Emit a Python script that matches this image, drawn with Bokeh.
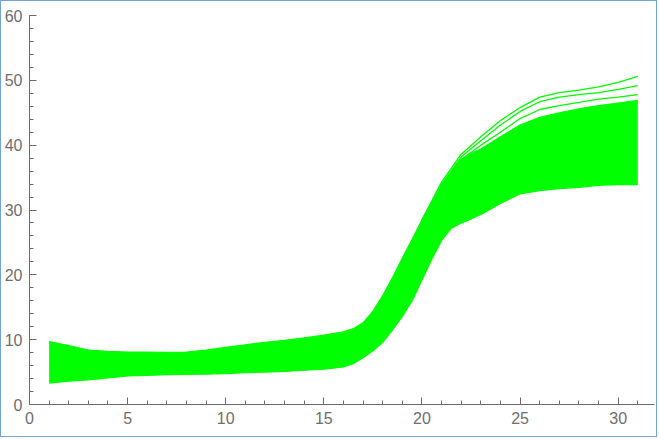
from bokeh.plotting import figure
from bokeh.models import Range1d, SingleIntervalTicker, ColumnDataSource
from bokeh.embed import file_html
from bokeh.resources import INLINE

# ---- data ----
x_vals = [1, 2, 3, 4, 5, 6, 7, 8, 9, 10, 11, 12, 13, 14, 15, 16, 16.5, 17, 17.5, 18,
          18.5, 19, 19.5, 20, 20.5, 21, 21.5, 22, 22.5, 23, 24, 25, 26, 27, 28, 29, 30, 31]
band_lower = [3.3, 3.6, 3.8, 4.1, 4.4, 4.5, 4.6, 4.65, 4.7, 4.75, 4.9, 5.0, 5.1, 5.3, 5.45,
              5.8, 6.3, 7.2, 8.3, 9.6, 11.5, 13.6, 16.0, 19.2, 22.4, 25.3, 27.2, 28.0,
              28.6, 29.3, 31.0, 32.5, 33.0, 33.3, 33.5, 33.8, 33.9, 33.9]
band_upper = [9.7, 9.1, 8.4, 8.2, 8.1, 8.1, 8.05, 8.1, 8.4, 8.8, 9.2, 9.6, 9.9, 10.3, 10.7,
              11.2, 11.7, 12.6, 14.4, 16.8, 19.6, 22.6, 25.5, 28.5, 31.2, 33.7, 36.0, 37.8,
              38.7, 39.4, 41.3, 43.1, 44.3, 45.0, 45.6, 46.1, 46.5, 46.9]

top_x = [20, 21, 22, 23, 24, 25, 26, 27, 28, 29, 30, 31]
top_line_a = [28.5, 34.3, 38.6, 41.3, 43.8, 45.8, 47.4, 48.1, 48.5, 49.0, 49.7, 50.6]
top_line_b = [28.4, 34.0, 38.2, 40.7, 43.1, 45.2, 46.7, 47.4, 47.8, 48.1, 48.6, 49.2]
top_line_c = [28.3, 33.8, 37.8, 40.0, 42.0, 44.1, 45.5, 46.1, 46.6, 47.1, 47.4, 47.8]

x_ticks_major = 5
y_ticks_major = 10

GREEN = "#00ff00"
AXIS = "#6b6b6b"

p = figure(width=657, height=437, output_backend="svg", toolbar_location=None,
           x_range=Range1d(0, 31.85), y_range=Range1d(0, 60),
           min_border_left=28, min_border_right=4, min_border_top=14, min_border_bottom=34)
p.styles = {"border": "1px solid #6fa3da"}
p.outline_line_color = None
p.xgrid.visible = False
p.ygrid.visible = False
p.background_fill_color = "white"
p.border_fill_color = "white"

src = ColumnDataSource(dict(x=x_vals, lo=band_lower, hi=band_upper))
p.varea(x="x", y1="lo", y2="hi", source=src, fill_color=GREEN)
p.line(x="x", y="lo", source=src, line_color=GREEN, line_width=1.2, line_join="round")
p.line(x="x", y="hi", source=src, line_color=GREEN, line_width=1.2, line_join="round")
for ys in (top_line_a, top_line_b, top_line_c):
    p.line(top_x, ys, line_color=GREEN, line_width=1.3, line_join="round")

for ax, step in ((p.xaxis[0], x_ticks_major), (p.yaxis[0], y_ticks_major)):
    ax.ticker = SingleIntervalTicker(interval=step, num_minor_ticks=5)
    ax.axis_line_color = AXIS
    ax.major_tick_line_color = AXIS
    ax.minor_tick_line_color = AXIS
    ax.major_tick_in = 7
    ax.major_tick_out = 0
    ax.minor_tick_in = 4
    ax.minor_tick_out = 0
    ax.major_label_text_color = "#6e6e6e"
    ax.major_label_text_font = "Liberation Sans"
    ax.major_label_text_font_size = "16px"
p.xaxis[0].major_label_standoff = 7
p.yaxis[0].major_label_standoff = 7

open("out.html", "w").write(file_html(p, INLINE))
